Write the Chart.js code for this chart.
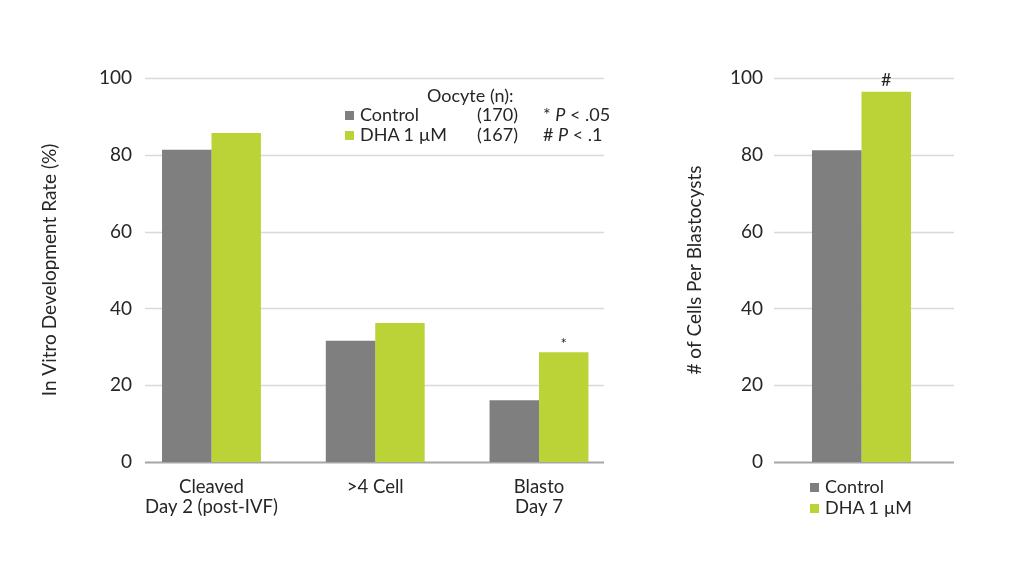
<!DOCTYPE html>
<html>
<head>
<meta charset="utf-8">
<script src="https://cdn.jsdelivr.net/npm/chart.js@4"></script>
<style>
  body { margin: 0; background: #fff; }
  #wrap { position: relative; width: 1024px; height: 576px; font-family: Lato, sans-serif; color: #262626; }
  canvas { position: absolute; top: 0; }
  #left { left: 0; }
  #right { left: 660px; }
  .lg { position: absolute; font-size: 18px; line-height: 20px; white-space: nowrap; }
  .sq { position: absolute; width: 9px; height: 9px; }
</style>
</head>
<body>
<div id="wrap">
  <canvas id="left" width="660" height="576" style="width:660px;height:576px"></canvas>
  <canvas id="right" width="364" height="576" style="width:364px;height:576px"></canvas>
</div>
<script>
const stages = [['Cleaved', 'Day 2 (post-IVF)'], '>4 Cell', ['Blasto', 'Day 7']];
const seriesNames = ['Control', 'DHA 1 \u00b5M'];
const seriesColors = ['#7f7f7f', '#bbd337'];
const controlRate = [81.3, 31.6, 16.1];
const dhaRate = [85.7, 36.2, 28.6];
const controlCells = [81.2];
const dhaCells = [96.4];
const oocyteCounts = ['(170)', '(167)'];
const pNotes = ['* <i>P</i> &lt; .05', '# <i>P</i> &lt; .1'];
const rateMarks = [null, null, '*'];
const cellMarks = ['#'];
const yTicks = [0, 20, 40, 60, 80, 100];

// horizontal grid lines drawn between custom x extents
const gridPlugin = {
  id: 'grid',
  beforeDatasetsDraw(chart, args, opts) {
    const {ctx, chartArea} = chart;
    const y = chart.scales.y;
    const x0 = chartArea.left + opts.inLeft, x1 = chartArea.right - opts.inRight;
    ctx.save();
    yTicks.forEach(v => {
      const py = Math.round(y.getPixelForValue(v)) + 0.5;
      ctx.strokeStyle = v === 0 ? '#a6a6a6' : '#d9d9d9';
      ctx.lineWidth = v === 0 ? 2 : 1.3;
      ctx.beginPath();
      ctx.moveTo(x0, py);
      ctx.lineTo(x1, py);
      ctx.stroke();
    });
    ctx.restore();
  }
};

const marksPlugin = {
  id: 'marks',
  afterDatasetsDraw(chart, args, opts) {
    const {ctx} = chart;
    const meta = chart.getDatasetMeta(1);
    ctx.save();
    ctx.fillStyle = '#262626';
    ctx.textAlign = 'center';
    ctx.textBaseline = 'bottom';
    opts.marks.forEach((m, i) => {
      if (!m) return;
      const bar = meta.data[i];
      ctx.font = (m === '*' ? '15px' : '18px') + ' Lato, sans-serif';
      ctx.fillText(m, bar.x, bar.y - (m === '*' ? 1 : 3));
    });
    ctx.restore();
  }
};

const tickFont = {family: 'Lato', size: 19};
const xFont = {family: 'Lato', size: 18.5, lineHeight: 1.1};

function makeChart(id, a, b, cfg) {
  return new Chart(document.getElementById(id), {
    type: 'bar',
    data: {
      labels: cfg.labels,
      datasets: [
        {label: seriesNames[0], data: a, backgroundColor: seriesColors[0]},
        {label: seriesNames[1], data: b, backgroundColor: seriesColors[1]}
      ]
    },
    options: {
      responsive: false,
      animation: false,
      layout: {padding: {top: 78, left: 0, right: cfg.padRight, bottom: 0}},
      datasets: {bar: {barPercentage: 1, categoryPercentage: 0.604}},
      plugins: {
        legend: {display: false},
        tooltip: {enabled: false},
        grid: {inLeft: cfg.inLeft, inRight: cfg.inRight},
        marks: {marks: cfg.marks}
      },
      scales: {
        x: Object.assign({
          grid: {display: false, drawTicks: false},
          border: {display: false},
          afterFit(s) { s.height = 114; }
        }, cfg.x),
        y: {
          min: 0, max: 100,
          afterBuildTicks(s) { s.ticks = yTicks.map(v => ({value: v})); },
          grid: {display: false, drawTicks: false},
          border: {display: false},
          ticks: {color: '#262626', font: tickFont, padding: cfg.tickPad},
          title: {display: true, text: cfg.title, color: '#262626', font: {family: 'Lato', size: 19}, padding: {top: cfg.titlePad, bottom: 0}},
          afterFit(s) { s.width = cfg.yWidth; }
        }
      }
    },
    plugins: [gridPlugin, marksPlugin]
  });
}

// left panel: linear index axis so the category spacing can be wider than the gridline span
makeChart('left',
  controlRate.map((v, i) => ({x: i, y: v})),
  dhaRate.map((v, i) => ({x: i, y: v})), {
  labels: [],
  title: 'In Vitro Development Rate (%)', yWidth: 145, padRight: 56,
  tickPad: 13, titlePad: 38, inLeft: 0, inRight: 0, marks: rateMarks,
  x: {
    type: 'linear', offset: false, min: -0.406, max: 2.397,
    afterBuildTicks(s) { s.ticks = stages.map((l, i) => ({value: i})); },
    ticks: {color: '#262626', font: xFont, padding: 15, maxRotation: 0, autoSkip: false,
      callback: (v) => stages[v]}
  }
});

makeChart('right', controlCells, dhaCells, {
  labels: [''],
  title: '# of Cells Per Blastocysts', yWidth: 119.5, padRight: 80.5,
  tickPad: 16.5, titlePad: 23, inLeft: -5.5, inRight: -10.5, marks: cellMarks,
  x: {ticks: {display: false}}
});

// legends as html text
const wrap = document.getElementById('wrap');
function addText(html, left, cy) {
  const d = document.createElement('div');
  d.className = 'lg';
  d.innerHTML = html;
  d.style.left = left + 'px';
  d.style.top = (cy - 10) + 'px';
  wrap.appendChild(d);
}
function addSquare(color, left, cy) {
  const s = document.createElement('div');
  s.className = 'sq';
  s.style.background = color;
  s.style.left = left + 'px';
  s.style.top = (cy - 4) + 'px';
  wrap.appendChild(s);
}
addText('Oocyte (n):', 427, 95);
seriesNames.forEach((n, i) => {
  const cy = 114 + i * 20;
  addSquare(seriesColors[i], 345, cy + 1);
  addText(n, 360, cy);
  addText(oocyteCounts[i], 477, cy);
  addText(pNotes[i], 543, cy);
  const cy2 = 486 + i * 21;
  addSquare(seriesColors[i], 810, cy2 + 1);
  addText(n, 825, cy2);
});
</script>
</body>
</html>
